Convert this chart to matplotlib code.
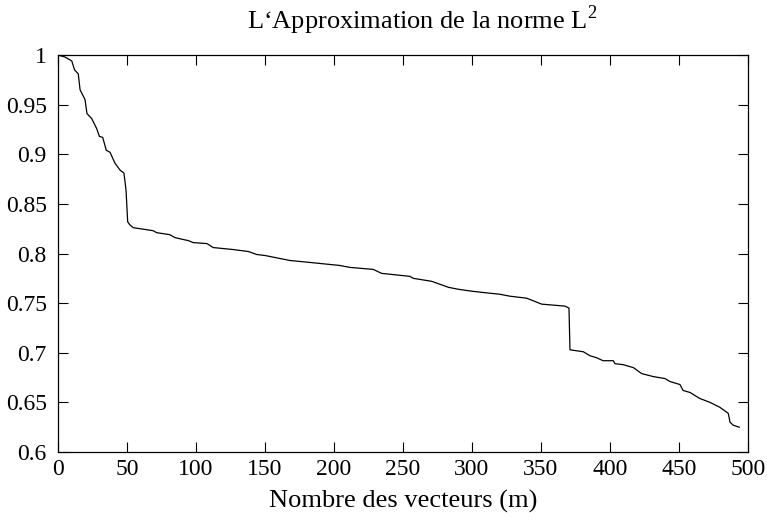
import matplotlib
matplotlib.use("Agg")
import matplotlib.pyplot as plt

plt.rcParams['font.family'] = ['Liberation Serif', 'DejaVu Serif']
plt.rcParams['mathtext.fontset'] = 'custom'
plt.rcParams['mathtext.rm'] = 'Liberation Serif'

# nombre de vecteurs m et approximation de la norme L2
m = [0, 5, 10, 12, 14.7, 16, 19.6, 21, 24.4, 28, 30, 32.4, 35, 37.7, 41.3, 45,
     47.8, 49.3, 50.5, 52, 54.6, 59.4, 69, 71.5, 81, 84.8, 94.4, 98, 108, 112.5,
     127, 138, 144, 150, 168, 182.6, 204, 211.6, 228.5, 234.5, 255, 257.5,
     270.8, 282.8, 290, 300, 313, 320, 327.5, 339.6, 350.5, 367.4, 370.3, 371,
     380.7, 385.5, 390.3, 395, 402.4, 403.6, 409.6, 417, 423, 431.4, 439.9,
     443.5, 450.7, 453, 458, 465, 472.5, 479.7, 485.7, 487, 489.3, 493.7]
norme = [1.0, 0.998, 0.994, 0.985, 0.981, 0.965, 0.955, 0.941, 0.936, 0.926,
         0.918, 0.917, 0.904, 0.902, 0.891, 0.884, 0.881, 0.864, 0.832, 0.829,
         0.826, 0.825, 0.823, 0.821, 0.819, 0.816, 0.813, 0.811, 0.810, 0.806,
         0.804, 0.802, 0.799, 0.798, 0.793, 0.791, 0.788, 0.786, 0.784, 0.780,
         0.777, 0.775, 0.772, 0.766, 0.764, 0.762, 0.760, 0.759, 0.757, 0.755,
         0.749, 0.747, 0.745, 0.703, 0.701, 0.697, 0.695, 0.692, 0.692, 0.689,
         0.688, 0.685, 0.679, 0.676, 0.674, 0.671, 0.668, 0.662, 0.660, 0.654,
         0.650, 0.645, 0.639, 0.630, 0.627, 0.625]

xticks = [0, 50, 100, 150, 200, 250, 300, 350, 400, 450, 500]
yticks = [0.6, 0.65, 0.7, 0.75, 0.8, 0.85, 0.9, 0.95, 1]
ylabels = ['0.6', '0.65', '0.7', '0.75', '0.8', '0.85', '0.9', '0.95', '1']

fig = plt.figure(figsize=(7.67, 5.21), dpi=100)
ax = fig.add_axes([0.0756, 0.1324, 0.8996, 0.762])

ax.plot(m, norme, color='black', linewidth=0.9)

ax.set_xlim(0, 500)
ax.set_ylim(0.6, 1)
ax.set_xticks(xticks)
ax.set_xticklabels([str(t) for t in xticks])
ax.set_yticks(yticks)
ax.set_yticklabels(ylabels)
ax.tick_params(direction='in', length=7, width=0.8, top=True, right=True,
               labelsize=17)
ax.tick_params(axis='x', pad=5)
ax.tick_params(axis='y', pad=8)
for s in ax.spines.values():
    s.set_linewidth(0.9)

ax.set_xlabel('Nombre des vecteurs (m)', fontsize=19, labelpad=7)
fig.text(0.551, 0.962, r'L‘Approximation de la norme L$^{\mathregular{2}}$',
         ha='center', va='center', fontsize=19)

fig.savefig('out.png', dpi=100)
